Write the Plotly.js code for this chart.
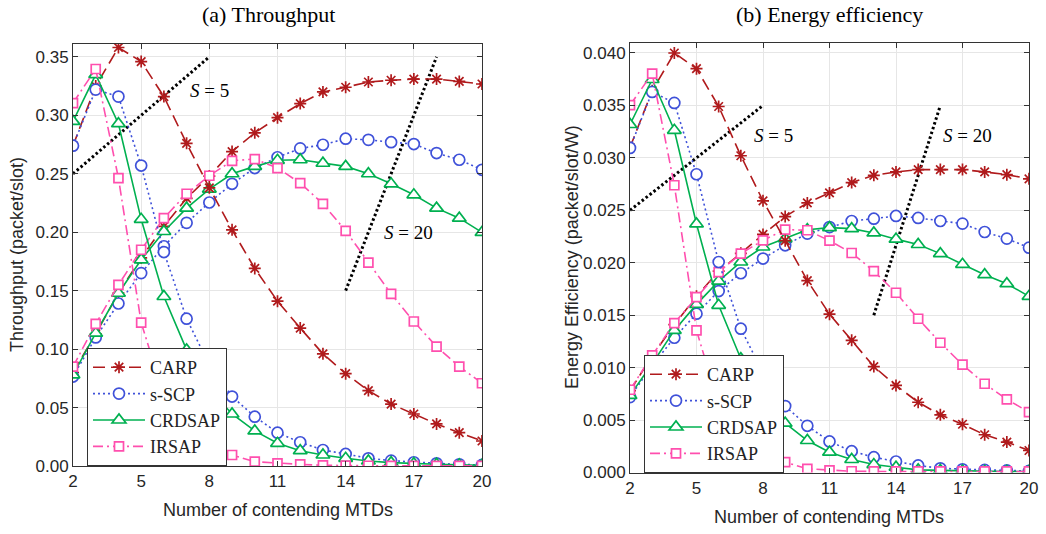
<!DOCTYPE html>
<html>
<head>
<meta charset="utf-8">
<script src="https://cdn.plot.ly/plotly-3.0.1.min.js"></script>
<style>html,body{margin:0;padding:0;background:#fff;}</style>
</head>
<body>
<div id="chart" style="width:1046px;height:534px;"></div>
<script>
// ---------- data ----------
const mtds = [2,3,4,5,6,7,8,9,10,11,12,13,14,15,16,17,18,19,20];
const xTicks = [2,5,8,11,14,17,20];
const protocols = ['CARP','s-SCP','CRDSAP','IRSAP'];

// (a) Throughput (packet/slot)
const thrCARP_S5   = [0.274,0.325,0.358,0.346,0.316,0.276,0.238,0.202,0.169,0.141,0.118,0.096,0.079,0.0645,0.053,0.0445,0.036,0.0285,0.0214];
const thrCARP_S20  = [0.080,0.113,0.148,0.178,0.205,0.229,0.248,0.269,0.285,0.298,0.310,0.320,0.324,0.3285,0.330,0.331,0.331,0.329,0.3268];
const thrSSCP_S5   = [0.274,0.322,0.316,0.257,0.183,0.126,0.0865,0.0594,0.0422,0.0285,0.0203,0.0137,0.0103,0.0066,0.0046,0.0032,0.0023,0.0014,0.0009];
const thrSSCP_S20  = [0.0765,0.110,0.139,0.165,0.188,0.208,0.2254,0.2414,0.2549,0.2641,0.2717,0.2748,0.280,0.279,0.277,0.2754,0.2677,0.262,0.2534];
const thrCRD_S5    = [0.2948,0.3348,0.2928,0.211,0.145,0.0993,0.066,0.0445,0.030,0.0194,0.0131,0.0094,0.0066,0.0043,0.0029,0.0020,0.0015,0.0010,0.0007];
const thrCRD_S20   = [0.078,0.1136,0.1478,0.1764,0.2006,0.2206,0.2369,0.250,0.2563,0.2615,0.262,0.259,0.2563,0.250,0.2414,0.232,0.2206,0.212,0.1998];
const thrIRS_S5    = [0.3105,0.3396,0.2463,0.1227,0.060,0.030,0.017,0.0094,0.0037,0.0023,0.0014,0.0006,0.0003,0.0002,0.0001,0.0001,0.0001,0.0001,0.0001];
const thrIRS_S20   = [0.085,0.1216,0.155,0.185,0.2121,0.2329,0.2483,0.2611,0.2626,0.2549,0.242,0.2243,0.2012,0.174,0.1473,0.1236,0.1021,0.085,0.0708];

// (b) Energy efficiency (packet/slot/W)
const eeCARP_S5   = [0.0310,0.0364,0.0400,0.0385,0.0349,0.0302,0.0259,0.0221,0.0183,0.0151,0.0126,0.0101,0.0083,0.0067,0.0055,0.0046,0.0036,0.0029,0.0021];
const eeCARP_S20  = [0.0078,0.0111,0.0141,0.0168,0.0192,0.0209,0.0227,0.0244,0.0257,0.02666,0.02764,0.02834,0.02866,0.02888,0.02888,0.02888,0.02866,0.0284,0.0280];
const eeSSCP_S5   = [0.03095,0.03629,0.03524,0.02844,0.02007,0.01371,0.0095,0.00633,0.00445,0.00296,0.00203,0.00146,0.00105,0.00067,0.0004,0.0003,0.00025,0.0002,0.00015];
const eeSSCP_S20  = [0.00719,0.0102,0.01285,0.01514,0.0173,0.0190,0.0204,0.02166,0.02278,0.0234,0.02398,0.0242,0.02446,0.02427,0.02398,0.02373,0.02293,0.0223,0.02144];
const eeCRD_S5    = [0.03318,0.03747,0.03263,0.0237,0.01594,0.01085,0.0072,0.0047,0.00305,0.00194,0.00124,0.00076,0.0005,0.00025,0.0002,0.00015,0.0001,0.0001,0.0001];
const eeCRD_S20   = [0.00735,0.01037,0.01355,0.01603,0.01825,0.02007,0.0215,0.0223,0.02315,0.02335,0.02325,0.02284,0.02225,0.02174,0.02087,0.01985,0.01886,0.0180,0.0168];
const eeIRS_S5    = [0.03502,0.03804,0.02739,0.01355,0.0065,0.0033,0.0018,0.00098,0.00035,0.0002,0.00012,0.0001,0.0001,0.0001,0.0001,0.0001,0.0001,0.0001,0.0001];
const eeIRS_S20   = [0.00789,0.01116,0.01425,0.01673,0.01911,0.02087,0.02214,0.02316,0.0231,0.0221,0.02093,0.0192,0.01714,0.01466,0.01237,0.01028,0.00846,0.00697,0.00576];

// guide lines (dotted black) grouping S=5 / S=20 curves
const thrGuideS5x = [2,8],  thrGuideS5y = [0.25,0.35];
const thrGuideS20x = [14,18], thrGuideS20y = [0.15,0.35];
const eeGuideS5x = [2,8],   eeGuideS5y = [0.025,0.035];
const eeGuideS20x = [13,16], eeGuideS20y = [0.015,0.035];

// ---------- styles ----------
const styles = {
  'CARP':   {color:'#B01A1C', dash:'12px,6px',          symbol:'asterisk-open', size:10, fill:'#B01A1C'},
  's-SCP':  {color:'#3F51D9', dash:'2px,3px',           symbol:'circle',        size:11, fill:'#FFFFFF'},
  'CRDSAP': {color:'#00B050', dash:'solid',             symbol:'triangle-up',   size:12, fill:'#FFFFFF'},
  'IRSAP':  {color:'#FF4FAE', dash:'10px,4px,2px,4px',  symbol:'square',        size:9,  fill:'#FFFFFF'}
};

function tr(name, y, xa, ya, legendId, show){
  const s = styles[name];
  return {
    x: mtds, y: y, xaxis: xa, yaxis: ya, type:'scatter', mode:'lines+markers',
    name: name, legend: legendId, showlegend: show, legendgroup: name+legendId,
    line: {color: s.color, width: 1.6, dash: s.dash},
    marker: {symbol: s.symbol, size: s.size, color: s.fill,
             line: {color: s.color, width: 1.7}},
    hoverinfo: 'x+y'
  };
}
function guide(x, y, xa, ya){
  return {x:x, y:y, xaxis:xa, yaxis:ya, type:'scatter', mode:'lines', showlegend:false,
          line:{color:'#000', width:3, dash:'2.5px,2.5px'}, hoverinfo:'skip'};
}

const thr5 = [thrCARP_S5, thrSSCP_S5, thrCRD_S5, thrIRS_S5];
const thr20 = [thrCARP_S20, thrSSCP_S20, thrCRD_S20, thrIRS_S20];
const ee5 = [eeCARP_S5, eeSSCP_S5, eeCRD_S5, eeIRS_S5];
const ee20 = [eeCARP_S20, eeSSCP_S20, eeCRD_S20, eeIRS_S20];

const data = [];
data.push(guide(thrGuideS5x, thrGuideS5y, 'x', 'y'));
data.push(guide(thrGuideS20x, thrGuideS20y, 'x', 'y'));
data.push(guide(eeGuideS5x, eeGuideS5y, 'x2', 'y2'));
data.push(guide(eeGuideS20x, eeGuideS20y, 'x2', 'y2'));
protocols.forEach((p,i)=>{
  data.push(tr(p, thr20[i], 'x', 'y', 'legend', false));
  data.push(tr(p, ee20[i], 'x2', 'y2', 'legend2', false));
});
protocols.forEach((p,i)=>{
  data.push(tr(p, thr5[i], 'x', 'y', 'legend', true));
  data.push(tr(p, ee5[i], 'x2', 'y2', 'legend2', true));
});

// ---------- layout ----------
const W = 1046, H = 534;
const px = v => v / W, py = v => 1 - v / H;
const axisCommon = {
  showline:true, linecolor:'#333', linewidth:1, mirror:'ticks',
  ticks:'inside', ticklen:5, tickcolor:'#333', tickwidth:1,
  showgrid:true, gridcolor:'#E6E6E6', gridwidth:1, zeroline:false,
  tickfont:{family:'Liberation Sans, Arial, sans-serif', size:17, color:'#262626'},
  automargin:false, fixedrange:true
};
const sansT = {family:'Liberation Sans, Arial, sans-serif', size:18, color:'#262626'};
const serifT = {family:'Liberation Serif, Times New Roman, serif', size:22, color:'#000'};
const legendCommon = {
  bgcolor:'#FFFFFF', bordercolor:'#333', borderwidth:1,
  font:{family:'Liberation Serif, Times New Roman, serif', size:18, color:'#222'},
  xanchor:'left', yanchor:'middle', itemwidth:52, tracegroupgap:0, traceorder:'normal'
};

const layout = {
  width: W, height: H, margin:{l:0,r:0,t:0,b:0}, paper_bgcolor:'#fff', plot_bgcolor:'#fff',
  xaxis: Object.assign({}, axisCommon, {domain:[px(73), px(482)], range:[2,20], tickvals:xTicks, anchor:'y'}),
  yaxis: Object.assign({}, axisCommon, {domain:[py(466), py(44)], range:[0,0.361], dtick:0.05, tick0:0, tickformat:'.2f', anchor:'x'}),
  xaxis2: Object.assign({}, axisCommon, {domain:[px(630), px(1029)], range:[2,20], tickvals:xTicks, anchor:'y2'}),
  yaxis2: Object.assign({}, axisCommon, {domain:[py(472.5), py(42.5)], range:[0,0.041], dtick:0.005, tick0:0, tickformat:'.3f', anchor:'x2'}),
  legend: Object.assign({}, legendCommon, {x:px(87), y:py(407)}),
  legend2: Object.assign({}, legendCommon, {x:px(644), y:py(414)}),
  annotations: [
    {text:'(a) Throughput', xref:'paper', yref:'paper', x:px(268), y:py(15), showarrow:false, font:serifT, xanchor:'center', yanchor:'middle'},
    {text:'(b) Energy efficiency', xref:'paper', yref:'paper', x:px(829), y:py(15), showarrow:false, font:serifT, xanchor:'center', yanchor:'middle'},
    {text:'Number of contending MTDs', xref:'paper', yref:'paper', x:px(278), y:py(510), showarrow:false, font:sansT, xanchor:'center', yanchor:'middle'},
    {text:'Number of contending MTDs', xref:'paper', yref:'paper', x:px(829), y:py(517), showarrow:false, font:sansT, xanchor:'center', yanchor:'middle'},
    {text:'Throughput (packet/slot)', xref:'paper', yref:'paper', x:px(17), y:py(255), textangle:-90, showarrow:false, font:sansT, xanchor:'center', yanchor:'middle'},
    {text:'Energy Efficiency (packet/slot/W)', xref:'paper', yref:'paper', x:px(572), y:py(257), textangle:-90, showarrow:false, font:sansT, xanchor:'center', yanchor:'middle'},
    {text:'<i>S</i> = 5', xref:'x', yref:'y', x:7.05, y:0.321, xanchor:'left', yanchor:'middle', showarrow:false, font:{family:'Liberation Serif, serif', size:19, color:'#000'}},
    {text:'<i>S</i> = 20', xref:'x', yref:'y', x:15.6, y:0.200, xanchor:'left', yanchor:'middle', showarrow:false, font:{family:'Liberation Serif, serif', size:19, color:'#000'}},
    {text:'<i>S</i> = 5', xref:'x2', yref:'y2', x:7.5, y:0.0321, xanchor:'left', yanchor:'middle', showarrow:false, font:{family:'Liberation Serif, serif', size:19, color:'#000'}},
    {text:'<i>S</i> = 20', xref:'x2', yref:'y2', x:16.05, y:0.0321, xanchor:'left', yanchor:'middle', showarrow:false, font:{family:'Liberation Serif, serif', size:19, color:'#000'}}
  ]
};

Plotly.newPlot('chart', data, layout, {displayModeBar:false, staticPlot:false, responsive:false});
</script>
</body>
</html>
